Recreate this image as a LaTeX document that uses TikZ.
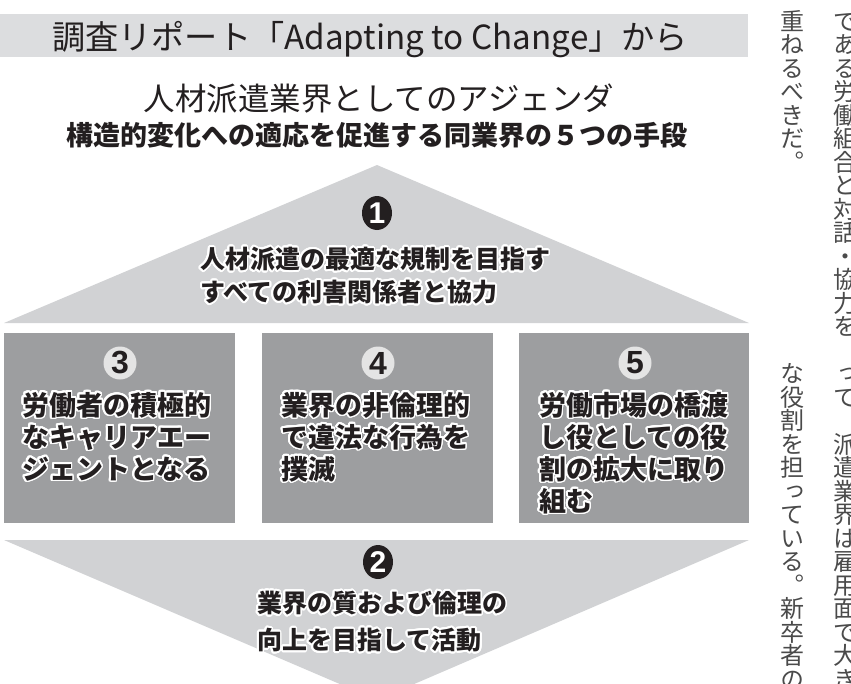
\documentclass[tikz,border=0pt]{standalone}
\usepackage{fontspec}
\usepackage[copies]{contour}
\usetikzlibrary{shapes.geometric}
\newfontfamily\jp{Noto Sans CJK JP}
\newfontfamily\jpv[RawFeature=+vert]{Noto Sans CJK JP}
\newfontfamily\digitfont{Liberation Sans}
\definecolor{bandgray}{HTML}{DCDDDF}
\definecolor{trigray}{HTML}{D1D2D4}
\definecolor{boxgray}{HTML}{9D9EA0}
\definecolor{numlight}{HTML}{E4E4E4}
\definecolor{textdark}{HTML}{231F20}
\definecolor{colgray}{HTML}{4A4A4A}
\contourlength{1.7pt}
\contournumber{32}
\newcommand\halo[1]{\contour{white}{#1}}
\newcommand\vcolumn[5]{%
  \foreach \ch [count=\k from 0] in {#5} {
    \node[vglyph] (#1-\k) at (#2, #3 + \k*#4) {\ch};
  }%
}
\tikzset{
  titletext/.style={anchor=base, inner sep=0, text=textdark, font=\jp\fontsize{33.2}{33.2}\selectfont},
  headtext/.style={anchor=base, inner sep=0, text=textdark, font=\jp\fontsize{31.5}{31.5}\selectfont},
  subtext/.style={anchor=base, inner sep=0, text=textdark, font=\jp\bfseries\fontsize{27}{27}\selectfont},
  trline/.style={anchor=base west, inner sep=0, text=textdark, font=\jp\bfseries\fontsize{25}{25}\selectfont},
  boxline/.style={anchor=base west, inner sep=0, text=textdark, font=\jp\bfseries\fontsize{27}{27}\selectfont},
  numdark/.style={ellipse, fill=textdark, text=white, inner sep=0, minimum width=30, minimum height=34, font=\digitfont\bfseries\fontsize{30}{30}\selectfont},
  numlightstyle/.style={circle, fill=numlight, text=textdark, inner sep=0, minimum size=33, font=\digitfont\bfseries\fontsize{32}{32}\selectfont},
  vglyph/.style={anchor=north, inner sep=0, text height=21pt, text depth=3pt, text=colgray, font=\jpv\fontsize{24}{24}\selectfont},
}
\begin{document}
\begin{tikzpicture}[x=1pt,y=-1pt]
\useasboundingbox (0,0) rectangle (851,683);
\clip (0,0) rectangle (851,683);
% header band
\fill[bandgray] (0,14) rectangle (748,57);
\node[titletext] (title) at (370,49) {調査リポート「Adapting to Change」から};
\node[headtext] (head) at (379,110) {人材派遣業界としてのアジェンダ};
\node[subtext] (sub) at (377,145) {構造的変化への適応を促進する同業界の５つの手段};
% top triangle
\fill[trigray] (4,323) -- (377,165) -- (749,323) -- cycle;
\node[numdark] (n1) at (377,213) {1};
\node[trline] (t1a) at (200,268.5) {\halo{人材派遣の最適な規制を目指す}};
\node[trline] (t1b) at (200,301.5) {\halo{すべての利害関係者と協力}};
% boxes
\fill[boxgray] (4,333) rectangle (235,523);
\fill[boxgray] (262,333) rectangle (493,523);
\fill[boxgray] (519,333) rectangle (749,523);
\node[numlightstyle] (n3) at (120,363) {3};
\node[numlightstyle] (n4) at (378,363) {4};
\node[numlightstyle] (n5) at (635,363) {5};
\node[boxline] (b3a) at (22,415) {\halo{労働者の積極的}};
\node[boxline] (b3b) at (22,447) {\halo{なキャリアエー}};
\node[boxline] (b3c) at (22,479) {\halo{ジェントとなる}};
\node[boxline] (b4a) at (281,415) {\halo{業界の非倫理的}};
\node[boxline] (b4b) at (281,447) {\halo{で違法な行為を}};
\node[boxline] (b4c) at (281,479) {\halo{撲滅}};
\node[boxline] (b5a) at (539,415) {\halo{労働市場の橋渡}};
\node[boxline] (b5b) at (539,447) {\halo{し役としての役}};
\node[boxline] (b5c) at (539,479) {\halo{割の拡大に取り}};
\node[boxline] (b5d) at (539,511) {\halo{組む}};
% bottom triangle
\fill[trigray] (4,540) -- (749,540) -- (377,700) -- cycle;
\node[numdark] (n2) at (378,562) {2};
\node[trline] (t2a) at (257,612.5) {\halo{業界の質および倫理の}};
\node[trline] (t2b) at (257,649.5) {\halo{向上を目指して活動}};
% newspaper columns (vertical text)
\vcolumn{ra}{845}{9}{23.5}{で,あ,る,労,働,組,合,と,対,話,・,協,力,を}
\vcolumn{la}{792}{9}{23.5}{重,ね,る,べ,き,だ,。}
\vcolumn{rb}{845}{361.5}{23.5}{っ,て,　,派,遣,業,界,は,雇,用,面,で,大,き}
\vcolumn{lb}{792}{361.5}{23.5}{な,役,割,を,担,っ,て,い,る,。,新,卒,者,の}
\end{tikzpicture}
\end{document}
